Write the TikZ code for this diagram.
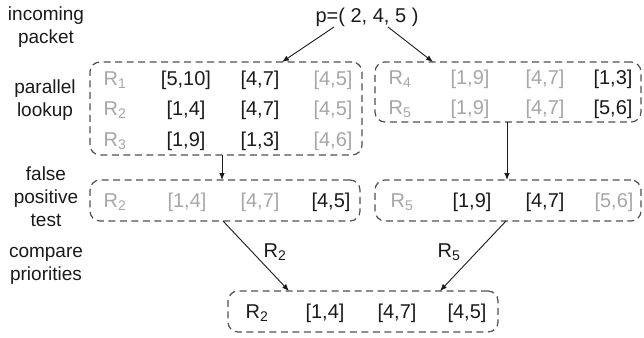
\documentclass[tikz,border=0pt]{standalone}
\usepackage{fontspec}
\setmainfont{Liberation Sans}
\usetikzlibrary{arrows.meta}
\definecolor{lg}{HTML}{A6A6A6}
\definecolor{dk}{HTML}{1A1A1A}
\definecolor{bx}{HTML}{505050}
\begin{document}
\begin{tikzpicture}[x=1pt,y=-1pt,
  box/.style={draw=bx, dash pattern=on 7pt off 4.5pt, line width=1.2pt, rounded corners=10pt, inner sep=0pt},
  lab/.style={align=center, font=\fontsize{19}{23}\selectfont, text=dk, inner sep=0pt},
  on/.style={anchor=base, inner sep=0pt, font=\fontsize{20}{24}\selectfont, text=dk},
  off/.style={anchor=base, inner sep=0pt, font=\fontsize{20}{24}\selectfont, text=lg},
  arr/.style={-{Latex[length=7pt,width=5.5pt]}, line width=0.9pt, draw=dk}]
\useasboundingbox (0,0) rectangle (644,337);
% left labels
\node[lab] (l1) at (46,27) {incoming\\packet};
\node[lab] (l2) at (45,100) {parallel\\lookup};
\node[lab] (l3) at (46,197) {false\\positive\\test};
\node[lab] (l4) at (46,266) {compare\\priorities};
% packet
\node[on, anchor=center] (p) at (367,17) {p=( 2, 4, 5 )};
% boxes
\node[box, minimum width=272pt, minimum height=93pt] (A) at (226,108.5) {};
\node[box, minimum width=266pt, minimum height=60pt] (B) at (508,92) {};
\node[box, minimum width=270pt, minimum height=41pt] (C) at (225,200.5) {};
\node[box, minimum width=266pt, minimum height=41pt] (D) at (508,200.5) {};
\node[box, minimum width=270pt, minimum height=41pt] (E) at (363,311.5) {};
% box A
\node[off] (a11) at (115,85) {R\textsubscript{1}};
\node[on]  (a12) at (186,85) {[5,10]};
\node[on]  (a13) at (260,85) {[4,7]};
\node[off] (a14) at (333,85) {[4,5]};
\node[off] (a21) at (115,115) {R\textsubscript{2}};
\node[on]  (a22) at (186,115) {[1,4]};
\node[on]  (a23) at (260,115) {[4,7]};
\node[off] (a24) at (333,115) {[4,5]};
\node[off] (a31) at (115,146) {R\textsubscript{3}};
\node[on]  (a32) at (186,146) {[1,9]};
\node[on]  (a33) at (260,146) {[1,3]};
\node[off] (a34) at (333,146) {[4,6]};
% box B
\node[off] (b11) at (400,84) {R\textsubscript{4}};
\node[off] (b12) at (470,84) {[1,9]};
\node[off] (b13) at (545,84) {[4,7]};
\node[on]  (b14) at (613,84) {[1,3]};
\node[off] (b21) at (400,114) {R\textsubscript{5}};
\node[off] (b22) at (470,114) {[1,9]};
\node[off] (b23) at (545,114) {[4,7]};
\node[on]  (b24) at (613,114) {[5,6]};
% box C
\node[off] (c1) at (115,207) {R\textsubscript{2}};
\node[off] (c2) at (187,207) {[1,4]};
\node[off] (c3) at (260,207) {[4,7]};
\node[on]  (c4) at (331,207) {[4,5]};
% box D
\node[off] (d1) at (402,207) {R\textsubscript{5}};
\node[on]  (d2) at (472,207) {[1,9]};
\node[on]  (d3) at (545,207) {[4,7]};
\node[off] (d4) at (614,207) {[5,6]};
% box E
\node[on] (e1) at (257,318) {R\textsubscript{2}};
\node[on] (e2) at (325,318) {[1,4]};
\node[on] (e3) at (397,318) {[4,7]};
\node[on] (e4) at (467,318) {[4,5]};
% connector points
\coordinate (ps1) at (334,27);
\coordinate (ps2) at (388,27);
\coordinate (at1) at (282,62);
\coordinate (bt1) at (433,62);
\coordinate (ab) at (222,155);
\coordinate (ct) at (222,180);
\coordinate (bb) at (507,122);
\coordinate (dt) at (507,180);
\coordinate (cb) at (223,221);
\coordinate (db) at (506,221);
\coordinate (et1) at (289,291);
\coordinate (et2) at (440,291);
\draw[arr] (ps1) -- (at1);
\draw[arr] (ps2) -- (bt1);
\draw[arr] (ab) -- (ct);
\draw[arr] (bb) -- (dt);
\draw[arr] (cb) -- (et1);
\draw[arr] (db) -- (et2);
\node[on, anchor=center] (r2) at (275,252) {R\textsubscript{2}};
\node[on, anchor=center] (r5) at (449,252) {R\textsubscript{5}};
\end{tikzpicture}
\end{document}
